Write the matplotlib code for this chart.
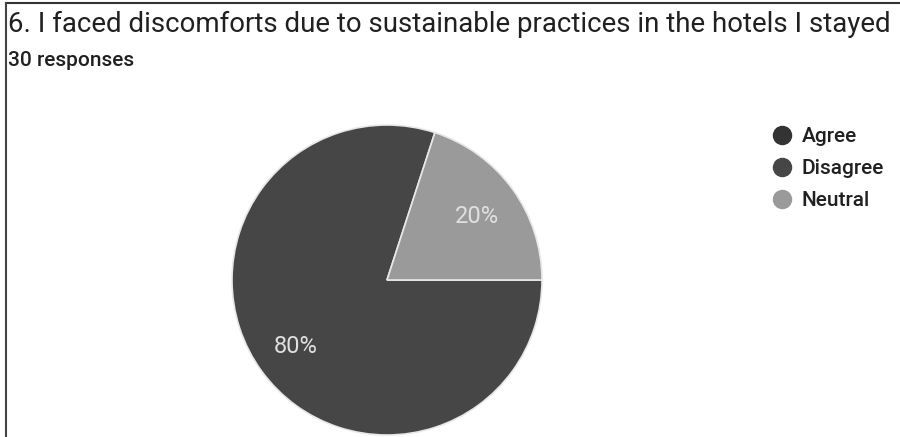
# Pie chart of survey answers: discomfort due to sustainable hotel practices
import matplotlib.pyplot as plt
from matplotlib.lines import Line2D

plt.rcParams['font.family'] = ['Roboto', 'DejaVu Sans']

# Survey data
answers = ['Agree', 'Disagree', 'Neutral']
counts = [0, 24, 6]
colors = ['#333333', '#464646', '#9a9a9a']
n_responses = sum(counts)

W, H = 900, 437
fig = plt.figure(figsize=(W / 100, H / 100), dpi=100)

def fx(px):
    return px / W

def fy(py):
    return 1 - py / H

# frame lines on the top and left edge
fig.add_artist(Line2D([fx(6), 1], [fy(3), fy(3)], color='#333333', lw=1.5))
fig.add_artist(Line2D([fx(6), fx(6)], [fy(3), 0], color='#444444', lw=1.5))

# titles
fig.text(fx(8), fy(32), '6. I faced discomforts due to sustainable practices in the hotels I stayed',
         fontsize=19.9, color='#202020', va='baseline', ha='left')
fig.text(fx(8), fy(66), f'{n_responses} responses', fontsize=15, fontweight='medium',
         color='#202020', va='baseline', ha='left')

# pie axes, centre at (387, 280) px with radius 155 px
cx, cy, r = 387, 280, 155
ax = fig.add_axes([fx(cx - r), fy(cy + r), 2 * r / W, 2 * r / H])
# Agree has no answers, so only the non-zero slices are drawn
wedges, _ = ax.pie([c for c in counts if c > 0],
                   colors=[col for c, col in zip(counts, colors) if c > 0],
                   startangle=0, counterclock=False, radius=1,
                   wedgeprops=dict(edgecolor='#e8e8e8', linewidth=1.2))
ax.set_xlim(-1, 1)
ax.set_ylim(-1, 1)
ax.set_aspect('equal')
ax.axis('off')

# percentage labels inside the slices
label_pos = {'Disagree': (-0.59, -0.43), 'Neutral': (0.58, 0.41)}
for name, c in zip(answers, counts):
    if name in label_pos:
        x, y = label_pos[name]
        ax.text(x, y, f'{c / n_responses * 100:.0f}%', ha='center', va='center',
                fontsize=17, color='#e0e0e0')

# legend with circular markers
handles = [Line2D([], [], marker='o', linestyle='none', markersize=13,
                  markerfacecolor=col, markeredgecolor=col) for col in colors]
fig.legend(handles, answers, loc='upper left', bbox_to_anchor=(fx(769), fy(127)),
           frameon=False, prop=dict(size=15, weight='medium'), labelspacing=0.62,
           handletextpad=0.36, handlelength=1.2, borderaxespad=0, borderpad=0,
           labelcolor='#202020')

fig.savefig('out.png', dpi=100, facecolor='white')
